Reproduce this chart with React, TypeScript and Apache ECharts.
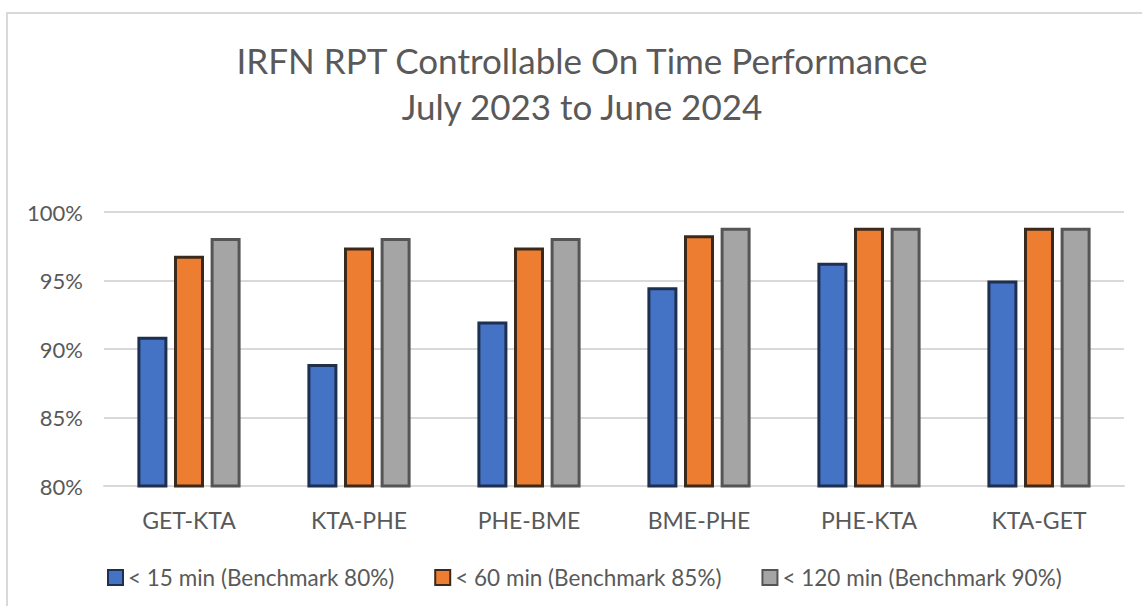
import React, { useEffect, useRef } from "react";
import * as echarts from "echarts";

const titleLines = ["IRFN RPT Controllable On Time Performance", "July 2023 to June 2024"];
const categories = ["GET-KTA", "KTA-PHE", "PHE-BME", "BME-PHE", "PHE-KTA", "KTA-GET"];
const seriesNames = [
  "< 15 min (Benchmark 80%)",
  "< 60 min (Benchmark 85%)",
  "< 120 min (Benchmark 90%)",
];
const under15 = [90.9, 88.9, 92.0, 94.5, 96.3, 95.0];
const under60 = [96.8, 97.4, 97.4, 98.3, 98.85, 98.85];
const under120 = [98.1, 98.1, 98.1, 98.85, 98.85, 98.85];
const yTicks = { min: 80, max: 100, interval: 5 };

const FONT = "Lato, 'Open Sans', sans-serif";
const TEXT = "#595959";

export default function App() {
  const ref = useRef<HTMLDivElement>(null);
  useEffect(() => {
    document.body.style.margin = "0";
    const chart = echarts.init(ref.current!, null, { renderer: "svg" });
    const fills = ["#4472C4", "#ED7D31", "#A5A5A5"];
    const borders = ["#1F2F4F", "#3A2A1E", "#555555"];
    const datas = [under15, under60, under120];
    chart.setOption({
      animation: false,
      backgroundColor: "#ffffff",
      textStyle: { fontFamily: FONT },
      graphic: [
        {
          type: "polyline",
          shape: { points: [[7, 700], [7, 13], [1200, 13]] },
          style: { stroke: "#d9d9d9", lineWidth: 2, fill: null },
          silent: true,
        },
        {
          type: "text",
          x: 582,
          y: 60,
          style: {
            text: titleLines[0],
            fontSize: 35,
            fontFamily: FONT,
            fill: TEXT,
            textAlign: "center",
            textVerticalAlign: "middle",
          },
        },
        {
          type: "text",
          x: 582,
          y: 106,
          style: {
            text: titleLines[1],
            fontSize: 35,
            fontFamily: FONT,
            fill: TEXT,
            textAlign: "center",
            textVerticalAlign: "middle",
          },
        },
      ],
      grid: { left: 104, right: 18, top: 212, bottom: 120, containLabel: false },
      legend: {
        left: 102,
        top: 561,
        itemWidth: 15,
        itemHeight: 15,
        itemGap: 40,
        icon: "rect",
        textStyle: { fontSize: 22.5, color: TEXT, fontFamily: FONT },
        data: seriesNames,
      },
      xAxis: {
        type: "category",
        data: categories,
        axisLine: { show: true, lineStyle: { color: "#d9d9d9", width: 2 } },
        axisTick: { show: false },
        axisLabel: { fontSize: 23, color: TEXT, margin: 22, fontFamily: FONT },
      },
      yAxis: {
        type: "value",
        min: yTicks.min,
        max: yTicks.max,
        interval: yTicks.interval,
        axisLine: { show: false },
        axisTick: { show: false },
        axisLabel: {
          fontSize: 22,
          color: TEXT,
          margin: 21,
          fontFamily: FONT,
          formatter: "{value}%",
        },
        splitLine: { lineStyle: { color: "#d9d9d9", width: 2 } },
      },
      series: seriesNames.map((name, i) => ({
        name,
        type: "bar",
        data: datas[i],
        barWidth: 30,
        barGap: "22%",
        itemStyle: { color: fills[i], borderColor: borders[i], borderWidth: 3 },
      })),
    });
    return () => chart.dispose();
  }, []);
  return <div ref={ref} style={{ width: 1142, height: 606 }} />;
}
